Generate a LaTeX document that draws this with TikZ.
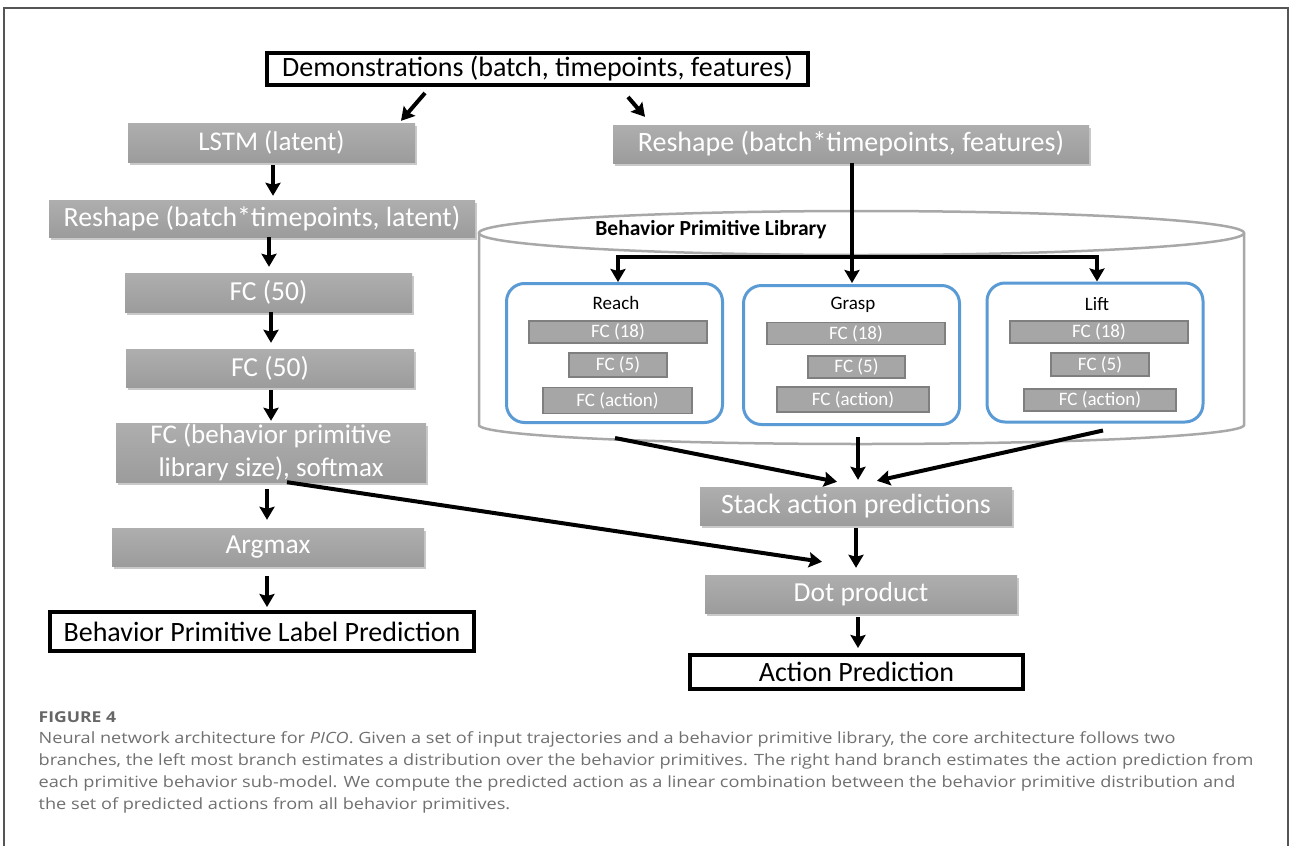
\documentclass[tikz,border=0pt]{standalone}
\usepackage{fontspec}
\setmainfont{Carlito}
\newfontfamily\capfont[FakeStretch=1.17]{Open Sans}
\usetikzlibrary{arrows.meta,shadows,calc}
\definecolor{boxgray}{HTML}{A6A6A6}
\definecolor{boxtop}{HTML}{AEAEAE}
\definecolor{boxbot}{HTML}{9C9C9C}
\definecolor{smallborder}{HTML}{7F7F7F}
\definecolor{blueb}{HTML}{5B9BD5}
\definecolor{cylgray}{HTML}{A8A8A8}
\definecolor{capgray}{HTML}{707070}
\definecolor{figgray}{HTML}{666666}
\definecolor{framegray}{HTML}{555555}
\begin{document}
\begin{tikzpicture}[x=1pt,y=-1pt,
  graybox/.style={rectangle, inner sep=0pt, top color=boxtop, bottom color=boxbot, draw=none,
    text=white, font=\fontsize{27.5}{31}\selectfont,
    drop shadow={shadow xshift=1.5pt, shadow yshift=-2.5pt, opacity=0.35, fill=black!60}},
  blackbox/.style={rectangle, inner sep=0pt, draw=black, line width=4pt, fill=white,
    text=black, font=\fontsize{28}{31}\selectfont},
  smallbox/.style={rectangle, inner sep=0pt, fill=boxgray, draw=smallborder, line width=1.5pt,
    text=white, font=\fontsize{19}{21}\selectfont},
  primbox/.style={rectangle, rounded corners=18pt, draw=blueb, line width=3pt, inner sep=0pt,
    minimum width=216pt, minimum height=139pt},
  primlabel/.style={font=\fontsize{19}{21}\selectfont, text=black, inner sep=0pt},
  arr/.style={line width=4pt, -{Stealth[length=13pt, width=15pt, inset=2pt]}},
  plainline/.style={line width=4pt},
  captext/.style={anchor=west, inner sep=0pt, text=capgray, font=\capfont\fontsize{15.5}{18}\selectfont},
]
\useasboundingbox (0,0) rectangle (1290,846);
\fill[white] (0,0) rectangle (1290,846);
% frame
\draw[framegray, line width=2pt] (3.5,846) -- (3.5,8) -- (1288,8) -- (1288,846);

% ---------- input ----------
\node[blackbox, minimum width=541pt, minimum height=32pt] (demo) at (537.5,69) {Demonstrations (batch, timepoints, features)};

% ---------- left branch ----------
\node[graybox, minimum width=287pt, minimum height=39pt, font=\fontsize{27}{31}\selectfont] (lstm) at (271.5,142.5) {LSTM (latent)};
\node[graybox, minimum width=426pt, minimum height=37pt, font=\fontsize{27.8}{31}\selectfont] (reshL) at (262,218.5) {Reshape (batch*timepoints, latent)};
\node[graybox, minimum width=287pt, minimum height=39pt] (fcA) at (268.5,292.5) {FC (50)};
\node[graybox, minimum width=288pt, minimum height=38pt] (fcB) at (270,368) {FC (50)};
\node[graybox, minimum width=310pt, minimum height=59pt, align=center,
      font=\fontsize{27}{33}\selectfont] (soft) at (271,452.5) {FC (behavior primitive\\library size), softmax};
\node[graybox, minimum width=312pt, minimum height=38pt] (argmax) at (268,547) {Argmax};
\node[blackbox, minimum width=424pt, minimum height=39pt] (bplp) at (262,631.5) {Behavior Primitive Label Prediction};

% ---------- right branch ----------
\node[graybox, minimum width=476pt, minimum height=38pt, font=\fontsize{28}{31}\selectfont] (reshR) at (851,144) {Reshape (batch*timepoints, features)};

% library cylinder
\draw[cylgray, line width=2.5pt] (861.5,233) ellipse [x radius=382.5pt, y radius=22pt];
\draw[cylgray, line width=2.5pt] (479,233) -- (479,425)
   arc[start angle=180, end angle=360, x radius=382.5pt, y radius=19pt] -- (1244,233);
\node[font=\bfseries\fontsize{21.5}{24}\selectfont, inner sep=0pt] (libtitle) at (711,230) {Behavior Primitive Library};

% primitive sub-models
\node[primbox] (reach) at (614.5,353) {};
\node[primbox] (grasp) at (851.5,355) {};
\node[primbox] (lift) at (1095,352.5) {};

\node[primlabel] (reachL) at (616,303) {Reach};
\node[smallbox, minimum width=178pt, minimum height=22pt] (r1) at (618,332) {FC (18)};
\node[smallbox, minimum width=98pt, minimum height=24pt] (r2) at (618,365) {FC (5)};
\node[smallbox, minimum width=149pt, minimum height=26pt] (r3) at (617.5,400.5) {FC (action)};

\node[primlabel] (graspL) at (853,305) {Grasp};
\node[smallbox, minimum width=178pt, minimum height=22pt] (g1) at (856,333.5) {FC (18)};
\node[smallbox, minimum width=97pt, minimum height=22pt] (g2) at (856.5,367) {FC (5)};
\node[smallbox, minimum width=152pt, minimum height=25pt] (g3) at (853,399.5) {FC (action)};

\node[primlabel] (liftL) at (1097,304) {Lift};
\node[smallbox, minimum width=178pt, minimum height=22pt] (l1) at (1099,332) {FC (18)};
\node[smallbox, minimum width=98pt, minimum height=23pt] (l2) at (1100,364.5) {FC (5)};
\node[smallbox, minimum width=152pt, minimum height=22pt] (l3) at (1100,400) {FC (action)};

\node[graybox, minimum width=312pt, minimum height=38pt, font=\fontsize{28}{31}\selectfont] (stack) at (856,506) {Stack action predictions};
\node[graybox, minimum width=312pt, minimum height=38pt] (dot) at (861,594) {Dot product};
\node[blackbox, minimum width=333pt, minimum height=34pt] (act) at (856.5,672) {Action Prediction};

% ---------- connectors ----------
\draw[arr] ([xshift=-112.5pt, yshift=-6pt]demo.south) -- ([xshift=129.5pt, yshift=2pt]lstm.north);
\draw[arr] ([xshift=90.5pt, yshift=-10pt]demo.south) -- ([xshift=-206pt, yshift=8pt]reshR.north);

\draw[arr] ([xshift=1.5pt, yshift=-3pt]lstm.south) -- ([xshift=11pt, yshift=4pt]reshL.north);
\draw[arr] ([xshift=7pt]reshL.south) -- ([xshift=0.5pt, yshift=6pt]fcA.north);
\draw[arr] ([xshift=2.5pt]fcA.south) -- ([xshift=1pt, yshift=6pt]fcB.north);
\draw[arr] ([xshift=1pt, yshift=-3pt]fcB.south) -- ([xshift=0pt, yshift=2pt]soft.north);
\draw[arr] ([xshift=-4pt, yshift=-7pt]soft.south) -- ([xshift=-1pt, yshift=8pt]argmax.north);
\draw[arr] ([xshift=-1pt, yshift=-10pt]argmax.south) -- ([xshift=5pt, yshift=3pt]bplp.north);

% split into the library
\coordinate (split) at (852,257);
\draw[plainline] ([xshift=1pt]reshR.south) -- (split);
\draw[arr] (split) -- ([xshift=0.5pt, yshift=1pt]grasp.north);
\draw[arr] (split) -| ([xshift=3.5pt]reach.north);
\draw[arr] (split) -| ([xshift=2pt]lift.north);

% into stack
\draw[arr] ([xshift=0.5pt, yshift=-14pt]reach.south) -- ([xshift=-19pt, yshift=5pt]stack.north);
\draw[arr] ([xshift=6.5pt, yshift=-11pt]grasp.south) -- ([xshift=2pt, yshift=7pt]stack.north);
\draw[arr] ([xshift=8pt, yshift=-7pt]lift.south) -- ([xshift=21pt, yshift=6pt]stack.north);

\draw[arr] ([yshift=-3pt]stack.south) -- ([xshift=-5pt, yshift=7pt]dot.north);
\draw[arr] ([xshift=16pt]soft.south) -- ([xshift=-39pt, yshift=13pt]dot.north);
\draw[arr] ([xshift=-3pt, yshift=-4pt]dot.south) -- ([xshift=1.5pt, yshift=5pt]act.north);

% ---------- caption ----------
\node[anchor=west, inner sep=0pt, text=figgray, font=\capfont\bfseries\fontsize{15}{17}\selectfont] (figlabel) at (38.5,717) {FIGURE 4};
\node[captext] (cap1) at (38.5,739) {Neural network architecture for \textit{PICO}. Given a set of input trajectories and a behavior primitive library, the core architecture follows two};
\node[captext] (cap2) at (38.5,761.5) {branches, the left most branch estimates a distribution over the behavior primitives. The right hand branch estimates the action prediction from};
\node[captext] (cap3) at (38.5,783.5) {each primitive behavior sub-model. We compute the predicted action as a linear combination between the behavior primitive distribution and};
\node[captext] (cap4) at (38.5,805.5) {the set of predicted actions from all behavior primitives.};
\end{tikzpicture}
\end{document}
